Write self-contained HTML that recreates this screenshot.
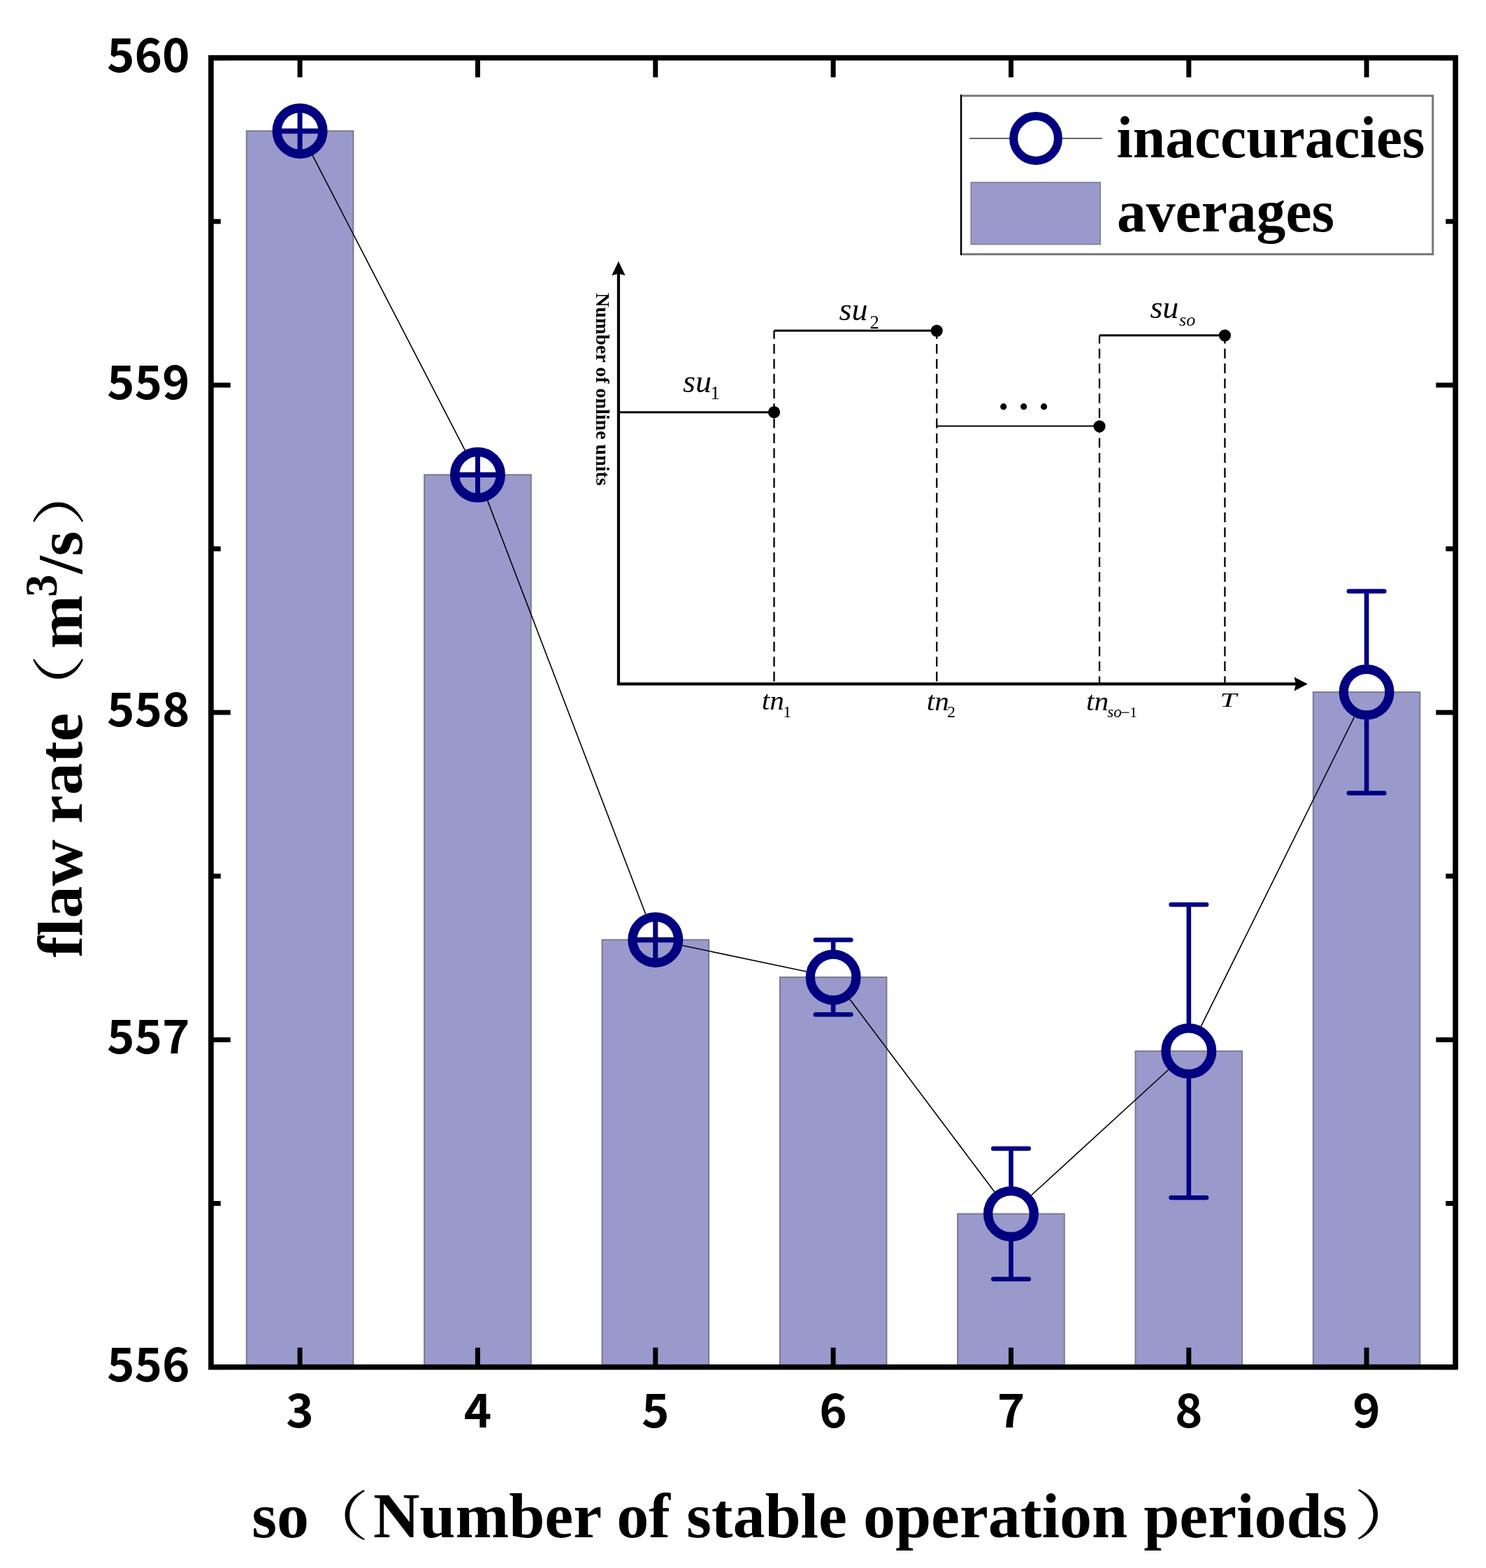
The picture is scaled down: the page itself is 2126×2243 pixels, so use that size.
<!DOCTYPE html><html><head><meta charset="utf-8"><style>html,body{margin:0;padding:0;background:#fff;overflow:hidden;}svg{display:block;}</style></head><body>
<svg width="2126" height="2243" viewBox="0 0 2126 2243">
<rect x="0" y="0" width="2126" height="2243" fill="#fff"/>
<rect x="352.77" y="187.40" width="152.61" height="1768.20" fill="#9999CC" stroke="#7a7a8c" stroke-width="2"/>
<rect x="607.11" y="679.20" width="152.61" height="1276.40" fill="#9999CC" stroke="#7a7a8c" stroke-width="2"/>
<rect x="861.45" y="1344.40" width="152.61" height="611.20" fill="#9999CC" stroke="#7a7a8c" stroke-width="2"/>
<rect x="1115.80" y="1397.90" width="152.61" height="557.70" fill="#9999CC" stroke="#7a7a8c" stroke-width="2"/>
<rect x="1370.14" y="1736.40" width="152.61" height="219.20" fill="#9999CC" stroke="#7a7a8c" stroke-width="2"/>
<rect x="1624.48" y="1503.60" width="152.61" height="452.00" fill="#9999CC" stroke="#7a7a8c" stroke-width="2"/>
<rect x="1878.83" y="990.10" width="152.61" height="965.50" fill="#9999CC" stroke="#7a7a8c" stroke-width="2"/>
<line x1="447.22" y1="222.49" x2="665.27" y2="644.11" stroke="#000" stroke-width="1.6"/>
<line x1="697.52" y1="716.10" x2="923.65" y2="1307.50" stroke="#000" stroke-width="1.6"/>
<line x1="976.41" y1="1352.53" x2="1153.45" y2="1389.77" stroke="#000" stroke-width="1.6"/>
<line x1="1215.83" y1="1429.48" x2="1422.71" y2="1704.82" stroke="#000" stroke-width="1.6"/>
<line x1="1475.58" y1="1709.73" x2="1671.65" y2="1530.27" stroke="#000" stroke-width="1.6"/>
<line x1="1718.32" y1="1468.20" x2="1937.60" y2="1025.50" stroke="#000" stroke-width="1.6"/>
<line x1="429.07" y1="160.40" x2="429.07" y2="214.40" stroke="#000080" stroke-width="7"/>
<line x1="402.07" y1="187.40" x2="456.07" y2="187.40" stroke="#000080" stroke-width="7.5"/>
<line x1="683.41" y1="652.20" x2="683.41" y2="706.20" stroke="#000080" stroke-width="7"/>
<line x1="656.41" y1="679.20" x2="710.41" y2="679.20" stroke="#000080" stroke-width="7.5"/>
<line x1="937.76" y1="1317.40" x2="937.76" y2="1371.40" stroke="#000080" stroke-width="7"/>
<line x1="910.76" y1="1344.40" x2="964.76" y2="1344.40" stroke="#000080" stroke-width="7.5"/>
<line x1="1192.10" y1="1344.55" x2="1192.10" y2="1360.40" stroke="#000080" stroke-width="6.6"/>
<line x1="1192.10" y1="1435.40" x2="1192.10" y2="1451.25" stroke="#000080" stroke-width="6.6"/>
<line x1="1166.90" y1="1344.55" x2="1217.30" y2="1344.55" stroke="#000080" stroke-width="6.6" stroke-linecap="round"/>
<line x1="1166.90" y1="1451.25" x2="1217.30" y2="1451.25" stroke="#000080" stroke-width="6.6" stroke-linecap="round"/>
<line x1="1446.44" y1="1643.00" x2="1446.44" y2="1698.90" stroke="#000080" stroke-width="6.6"/>
<line x1="1446.44" y1="1773.90" x2="1446.44" y2="1829.80" stroke="#000080" stroke-width="6.6"/>
<line x1="1421.24" y1="1643.00" x2="1471.64" y2="1643.00" stroke="#000080" stroke-width="6.6" stroke-linecap="round"/>
<line x1="1421.24" y1="1829.80" x2="1471.64" y2="1829.80" stroke="#000080" stroke-width="6.6" stroke-linecap="round"/>
<line x1="1700.79" y1="1294.00" x2="1700.79" y2="1466.10" stroke="#000080" stroke-width="6.6"/>
<line x1="1700.79" y1="1541.10" x2="1700.79" y2="1713.20" stroke="#000080" stroke-width="6.6"/>
<line x1="1675.59" y1="1294.00" x2="1725.99" y2="1294.00" stroke="#000080" stroke-width="6.6" stroke-linecap="round"/>
<line x1="1675.59" y1="1713.20" x2="1725.99" y2="1713.20" stroke="#000080" stroke-width="6.6" stroke-linecap="round"/>
<line x1="1955.13" y1="845.70" x2="1955.13" y2="952.60" stroke="#000080" stroke-width="6.6"/>
<line x1="1955.13" y1="1027.60" x2="1955.13" y2="1134.50" stroke="#000080" stroke-width="6.6"/>
<line x1="1929.93" y1="845.70" x2="1980.33" y2="845.70" stroke="#000080" stroke-width="6.6" stroke-linecap="round"/>
<line x1="1929.93" y1="1134.50" x2="1980.33" y2="1134.50" stroke="#000080" stroke-width="6.6" stroke-linecap="round"/>
<circle cx="429.07" cy="187.40" r="32.85" fill="none" stroke="#000080" stroke-width="13.3"/>
<circle cx="683.41" cy="679.20" r="32.85" fill="none" stroke="#000080" stroke-width="13.3"/>
<circle cx="937.76" cy="1344.40" r="32.85" fill="none" stroke="#000080" stroke-width="13.3"/>
<circle cx="1192.10" cy="1397.90" r="32.85" fill="none" stroke="#000080" stroke-width="13.3"/>
<circle cx="1446.44" cy="1736.40" r="32.85" fill="none" stroke="#000080" stroke-width="13.3"/>
<circle cx="1700.79" cy="1503.60" r="32.85" fill="none" stroke="#000080" stroke-width="13.3"/>
<circle cx="1955.13" cy="990.10" r="32.85" fill="none" stroke="#000080" stroke-width="13.3"/>
<rect x="301.9" y="82.7" width="1780.40" height="1872.90" fill="none" stroke="#000" stroke-width="7.7"/>
<line x1="429.07" y1="82.70" x2="429.07" y2="110.55" stroke="#000" stroke-width="7.0"/>
<line x1="429.07" y1="1955.60" x2="429.07" y2="1927.75" stroke="#000" stroke-width="7.0"/>
<line x1="683.41" y1="82.70" x2="683.41" y2="110.55" stroke="#000" stroke-width="7.0"/>
<line x1="683.41" y1="1955.60" x2="683.41" y2="1927.75" stroke="#000" stroke-width="7.0"/>
<line x1="937.76" y1="82.70" x2="937.76" y2="110.55" stroke="#000" stroke-width="7.0"/>
<line x1="937.76" y1="1955.60" x2="937.76" y2="1927.75" stroke="#000" stroke-width="7.0"/>
<line x1="1192.10" y1="82.70" x2="1192.10" y2="110.55" stroke="#000" stroke-width="7.0"/>
<line x1="1192.10" y1="1955.60" x2="1192.10" y2="1927.75" stroke="#000" stroke-width="7.0"/>
<line x1="1446.44" y1="82.70" x2="1446.44" y2="110.55" stroke="#000" stroke-width="7.0"/>
<line x1="1446.44" y1="1955.60" x2="1446.44" y2="1927.75" stroke="#000" stroke-width="7.0"/>
<line x1="1700.79" y1="82.70" x2="1700.79" y2="110.55" stroke="#000" stroke-width="7.0"/>
<line x1="1700.79" y1="1955.60" x2="1700.79" y2="1927.75" stroke="#000" stroke-width="7.0"/>
<line x1="1955.13" y1="82.70" x2="1955.13" y2="110.55" stroke="#000" stroke-width="7.0"/>
<line x1="1955.13" y1="1955.60" x2="1955.13" y2="1927.75" stroke="#000" stroke-width="7.0"/>
<line x1="301.90" y1="1955.60" x2="329.75" y2="1955.60" stroke="#000" stroke-width="7.0"/>
<line x1="2082.30" y1="1955.60" x2="2054.45" y2="1955.60" stroke="#000" stroke-width="7.0"/>
<line x1="301.90" y1="1721.49" x2="315.75" y2="1721.49" stroke="#000" stroke-width="7.0"/>
<line x1="2082.30" y1="1721.49" x2="2068.45" y2="1721.49" stroke="#000" stroke-width="7.0"/>
<line x1="301.90" y1="1487.38" x2="329.75" y2="1487.38" stroke="#000" stroke-width="7.0"/>
<line x1="2082.30" y1="1487.38" x2="2054.45" y2="1487.38" stroke="#000" stroke-width="7.0"/>
<line x1="301.90" y1="1253.26" x2="315.75" y2="1253.26" stroke="#000" stroke-width="7.0"/>
<line x1="2082.30" y1="1253.26" x2="2068.45" y2="1253.26" stroke="#000" stroke-width="7.0"/>
<line x1="301.90" y1="1019.15" x2="329.75" y2="1019.15" stroke="#000" stroke-width="7.0"/>
<line x1="2082.30" y1="1019.15" x2="2054.45" y2="1019.15" stroke="#000" stroke-width="7.0"/>
<line x1="301.90" y1="785.04" x2="315.75" y2="785.04" stroke="#000" stroke-width="7.0"/>
<line x1="2082.30" y1="785.04" x2="2068.45" y2="785.04" stroke="#000" stroke-width="7.0"/>
<line x1="301.90" y1="550.92" x2="329.75" y2="550.92" stroke="#000" stroke-width="7.0"/>
<line x1="2082.30" y1="550.92" x2="2054.45" y2="550.92" stroke="#000" stroke-width="7.0"/>
<line x1="301.90" y1="316.81" x2="315.75" y2="316.81" stroke="#000" stroke-width="7.0"/>
<line x1="2082.30" y1="316.81" x2="2068.45" y2="316.81" stroke="#000" stroke-width="7.0"/>
<line x1="301.90" y1="82.70" x2="329.75" y2="82.70" stroke="#000" stroke-width="7.0"/>
<line x1="2082.30" y1="82.70" x2="2054.45" y2="82.70" stroke="#000" stroke-width="7.0"/>
<text x="271.5" y="1975.60" text-anchor="end" style="font-family:'Noto Sans CJK SC','Liberation Sans',sans-serif;font-weight:700;font-size:67px">556</text>
<text x="271.5" y="1507.38" text-anchor="end" style="font-family:'Noto Sans CJK SC','Liberation Sans',sans-serif;font-weight:700;font-size:67px">557</text>
<text x="271.5" y="1039.15" text-anchor="end" style="font-family:'Noto Sans CJK SC','Liberation Sans',sans-serif;font-weight:700;font-size:67px">558</text>
<text x="271.5" y="570.92" text-anchor="end" style="font-family:'Noto Sans CJK SC','Liberation Sans',sans-serif;font-weight:700;font-size:67px">559</text>
<text x="271.5" y="102.70" text-anchor="end" style="font-family:'Noto Sans CJK SC','Liberation Sans',sans-serif;font-weight:700;font-size:67px">560</text>
<text x="429.07" y="2042.3" text-anchor="middle" style="font-family:'Noto Sans CJK SC','Liberation Sans',sans-serif;font-weight:700;font-size:67px">3</text>
<text x="683.41" y="2042.3" text-anchor="middle" style="font-family:'Noto Sans CJK SC','Liberation Sans',sans-serif;font-weight:700;font-size:67px">4</text>
<text x="937.76" y="2042.3" text-anchor="middle" style="font-family:'Noto Sans CJK SC','Liberation Sans',sans-serif;font-weight:700;font-size:67px">5</text>
<text x="1192.10" y="2042.3" text-anchor="middle" style="font-family:'Noto Sans CJK SC','Liberation Sans',sans-serif;font-weight:700;font-size:67px">6</text>
<text x="1446.44" y="2042.3" text-anchor="middle" style="font-family:'Noto Sans CJK SC','Liberation Sans',sans-serif;font-weight:700;font-size:67px">7</text>
<text x="1700.79" y="2042.3" text-anchor="middle" style="font-family:'Noto Sans CJK SC','Liberation Sans',sans-serif;font-weight:700;font-size:67px">8</text>
<text x="1955.13" y="2042.3" text-anchor="middle" style="font-family:'Noto Sans CJK SC','Liberation Sans',sans-serif;font-weight:700;font-size:67px">9</text>
<g transform="translate(117.4,0) rotate(-90)">
<text x="-1369.8" y="0" style="font-family:'Liberation Serif','Noto Serif CJK SC',serif;font-weight:700;font-size:92px">flaw rate</text>
<text transform="translate(-1035.5,-5.1) scale(1.3,1)" style="font-family:'Noto Serif CJK SC',serif;font-size:76.6px">（</text>
<text x="-928" y="0" style="font-family:'Liberation Serif','Noto Serif CJK SC',serif;font-weight:700;font-size:92px">m</text>
<text x="-854" y="-36.3" style="font-family:'Liberation Serif','Noto Serif CJK SC',serif;font-weight:700;font-size:64.5px">3</text>
<text x="-820.7" y="0" style="font-family:'Liberation Serif','Noto Serif CJK SC',serif;font-weight:700;font-size:92px">/</text>
<text x="-795.5" y="0" style="font-family:'Liberation Serif','Noto Serif CJK SC',serif;font-weight:700;font-size:92px">s</text>
<text transform="translate(-753.2,-5.1) scale(1.3,1)" style="font-family:'Noto Serif CJK SC',serif;font-size:76.6px">）</text>
</g>
<text x="360.2" y="2198.8" style="font-family:'Liberation Serif','Noto Serif CJK SC',serif;font-weight:700;font-size:92px">so</text>
<text transform="translate(428.8,2195.5) scale(1.3,1)" style="font-family:'Noto Serif CJK SC',serif;font-size:76.6px">（</text>
<text x="533.9" y="2198.8" style="font-family:'Liberation Serif','Noto Serif CJK SC',serif;font-weight:700;font-size:92px">Number of stable operation periods</text>
<text transform="translate(1936.6,2195.0) scale(1.3,1)" style="font-family:'Noto Serif CJK SC',serif;font-size:76.6px">）</text>
<rect x="1375" y="137" width="674.9" height="226.7" fill="#fff" stroke="#777" stroke-width="3"/>
<line x1="1375" y1="135.5" x2="1375" y2="365" stroke="#000" stroke-width="2"/>
<line x1="1387" y1="198" x2="1577" y2="198" stroke="#666" stroke-width="2"/>
<circle cx="1482" cy="198" r="31.9" fill="#fff" stroke="#000080" stroke-width="12"/>
<rect x="1389.2" y="260.9" width="185" height="88.6" fill="#9999CC" stroke="#7a7a8c" stroke-width="1.5"/>
<text x="1597.5" y="224.8" style="font-family:'Liberation Serif','Noto Serif CJK SC',serif;font-weight:700;font-size:83.6px">inaccuracies</text>
<text x="1598" y="331" style="font-family:'Liberation Serif','Noto Serif CJK SC',serif;font-weight:700;font-size:83.6px">averages</text>
<line x1="884.9" y1="978.4" x2="884.9" y2="386" stroke="#000" stroke-width="4.2"/>
<path d="M884.9,373.7 L894.6,394 L884.9,391.5 L875.2,394 Z" fill="#000"/>
<line x1="882.8" y1="978.4" x2="1862" y2="978.4" stroke="#000" stroke-width="4.4"/>
<path d="M1870.8,978.4 L1851.5,968.4 L1854,978.4 L1851.5,988.6 Z" fill="#000"/>
<line x1="884.9" y1="589.7" x2="1107.5" y2="589.7" stroke="#000" stroke-width="3"/>
<line x1="1107.5" y1="473.1" x2="1340.2" y2="473.1" stroke="#000" stroke-width="3"/>
<line x1="1340.2" y1="609.5" x2="1573" y2="609.5" stroke="#000" stroke-width="2"/>
<line x1="1573" y1="479.8" x2="1752.4" y2="479.8" stroke="#000" stroke-width="3"/>
<line x1="1107.5" y1="473.1" x2="1107.5" y2="976.4" stroke="#000" stroke-width="2.3" stroke-dasharray="14 7.3" stroke-dashoffset="2.3"/>
<line x1="1340.2" y1="473.1" x2="1340.2" y2="976.4" stroke="#000" stroke-width="2.3" stroke-dasharray="14 7.3" stroke-dashoffset="2.3"/>
<line x1="1573" y1="479.8" x2="1573" y2="976.4" stroke="#000" stroke-width="2.3" stroke-dasharray="14 7.3" stroke-dashoffset="2.3"/>
<line x1="1752.4" y1="479.8" x2="1752.4" y2="976.4" stroke="#000" stroke-width="2.3" stroke-dasharray="14 7.3" stroke-dashoffset="2.3"/>
<circle cx="1107.5" cy="589.7" r="8.6" fill="#000"/>
<circle cx="1340.2" cy="473.1" r="8.6" fill="#000"/>
<circle cx="1573" cy="609.8" r="8.6" fill="#000"/>
<circle cx="1752.4" cy="479.8" r="8.6" fill="#000"/>
<circle cx="1435.7" cy="581.7" r="4.6" fill="#000"/>
<circle cx="1464.6" cy="581.7" r="4.6" fill="#000"/>
<circle cx="1493.5" cy="581.7" r="4.6" fill="#000"/>
<text x="977.1" y="560.5" style="font-family:'Liberation Serif','Noto Serif CJK SC',serif;font-style:italic;font-size:46px">su</text>
<text x="1016.6" y="571.4" style="font-family:'Liberation Serif','Noto Serif CJK SC',serif;font-size:26.5px">1</text>
<text x="1200.5" y="457.6" style="font-family:'Liberation Serif','Noto Serif CJK SC',serif;font-style:italic;font-size:46px">su</text>
<text x="1244.5" y="469.6" style="font-family:'Liberation Serif','Noto Serif CJK SC',serif;font-size:26.5px">2</text>
<text x="1645.4" y="455.4" style="font-family:'Liberation Serif','Noto Serif CJK SC',serif;font-style:italic;font-size:46px">su</text>
<text x="1687.1" y="466.3" style="font-family:'Liberation Serif','Noto Serif CJK SC',serif;font-size:26px;font-style:italic">so</text>
<text transform="translate(1089.8,1015.3) scale(1.1,1)" style="font-family:'Liberation Serif','Noto Serif CJK SC',serif;font-style:italic;font-size:37.5px">tn</text>
<text transform="translate(1325.8,1015.8) scale(1.1,1)" style="font-family:'Liberation Serif','Noto Serif CJK SC',serif;font-style:italic;font-size:37.5px">tn</text>
<text transform="translate(1554,1015.7) scale(1.1,1)" style="font-family:'Liberation Serif','Noto Serif CJK SC',serif;font-style:italic;font-size:37.5px">tn</text>
<text x="1120.2" y="1026.4" style="font-family:'Liberation Serif','Noto Serif CJK SC',serif;font-size:24px">1</text>
<text x="1355.1" y="1025.7" style="font-family:'Liberation Serif','Noto Serif CJK SC',serif;font-size:24px">2</text>
<text x="1584.2" y="1026.4" style="font-family:'Liberation Serif','Noto Serif CJK SC',serif;font-size:23px;font-style:italic">so</text>
<text x="1603.2" y="1027" style="font-family:'Liberation Serif','Noto Serif CJK SC',serif;font-size:24px">−</text>
<text x="1616" y="1025.8" style="font-family:'Liberation Serif','Noto Serif CJK SC',serif;font-size:22px">1</text>
<text transform="translate(1745.4,1011) scale(1.47,1)" style="font-family:'Liberation Serif','Noto Serif CJK SC',serif;font-style:italic;font-size:29px">T</text>
<text transform="translate(853.3,419.1) rotate(90)" style="font-family:'Liberation Serif','Noto Serif CJK SC',serif;font-weight:700;font-size:28px">Number of online units</text>
</svg></body></html>
